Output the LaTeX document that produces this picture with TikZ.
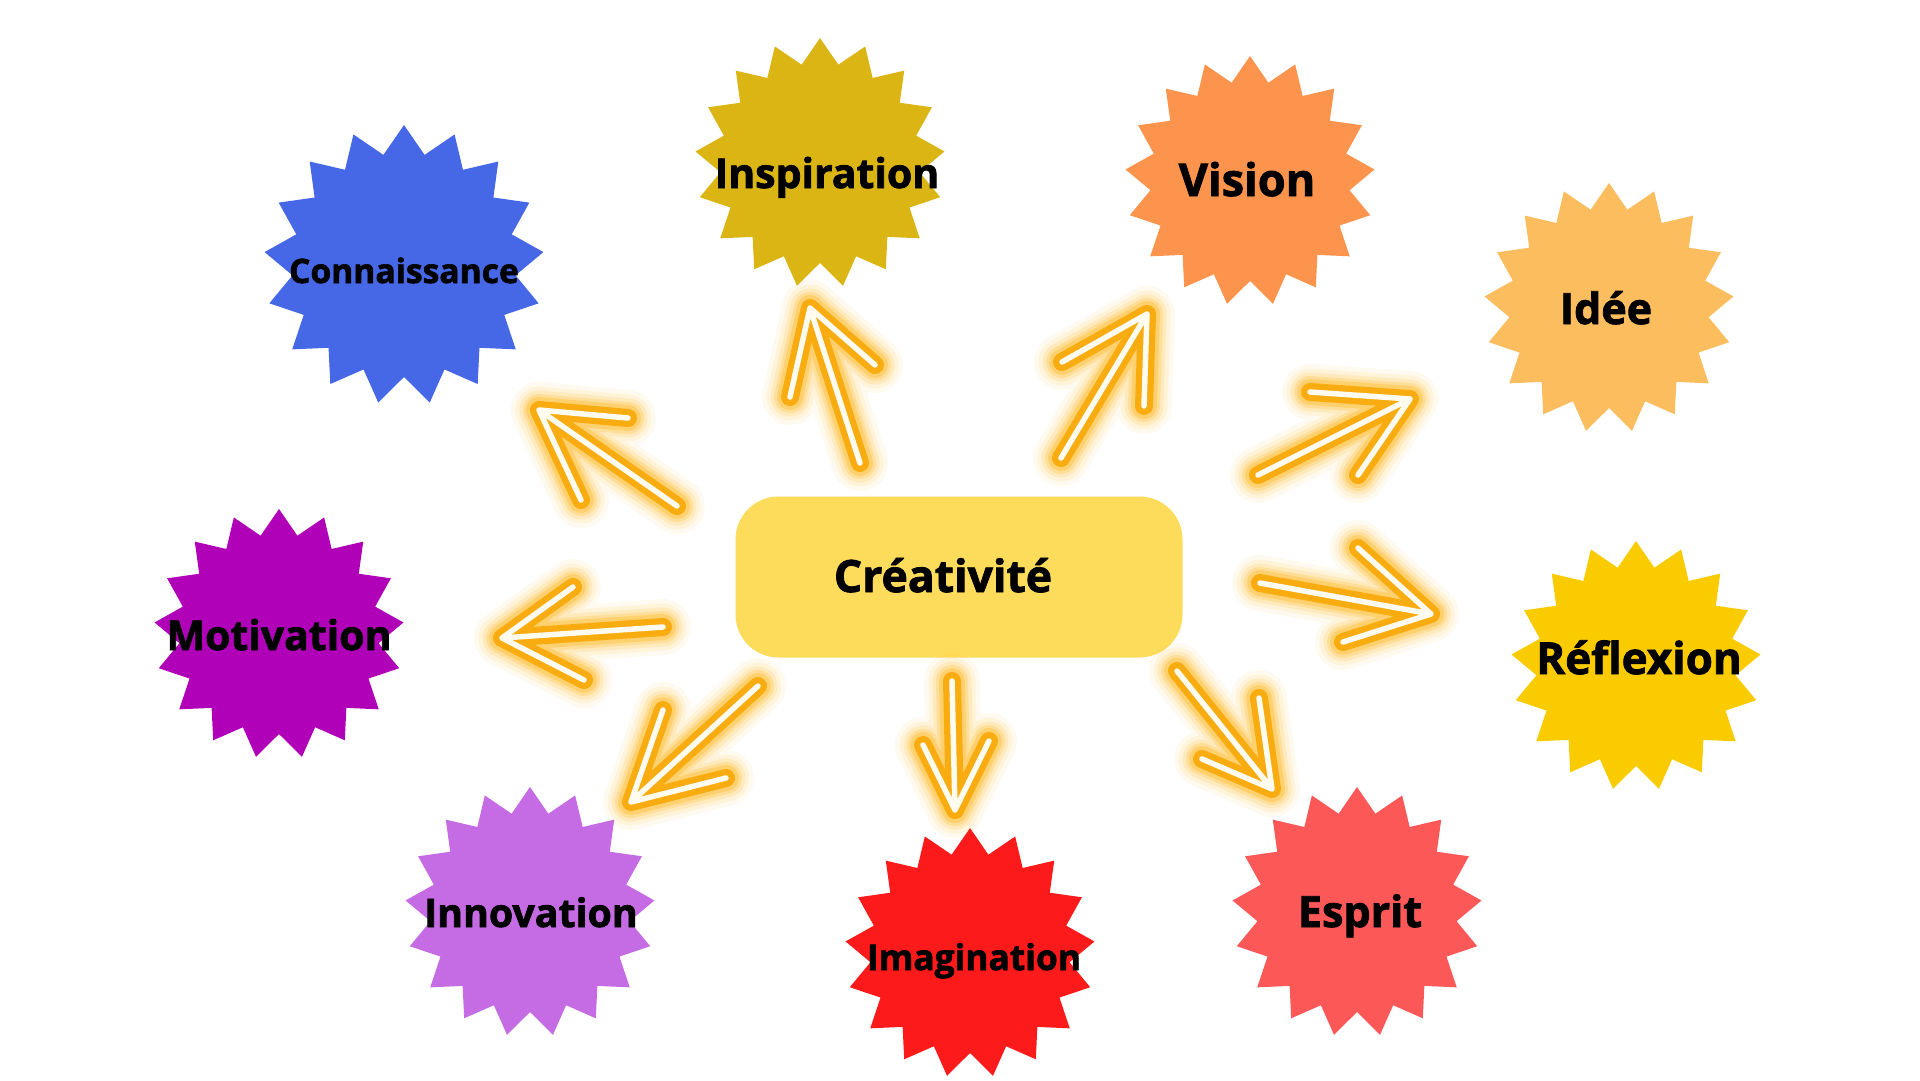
\documentclass[tikz,border=0pt]{standalone}
\usepackage{fontspec}
\setmainfont{Open Sans}[BoldFeatures={FakeBold=1.8}]
\usetikzlibrary{calc}
\definecolor{creaY}{HTML}{FDDC5C}
\definecolor{cBlue}{HTML}{4667E6}
\definecolor{cGold}{HTML}{DBB514}
\definecolor{cOrange}{HTML}{FD944D}
\definecolor{cPeach}{HTML}{FBBD5E}
\definecolor{cPurple}{HTML}{B000B8}
\definecolor{cYellow}{HTML}{FACC00}
\definecolor{cLilac}{HTML}{C56BE3}
\definecolor{cRed}{HTML}{FC1A1A}
\definecolor{cCoral}{HTML}{FD5858}
\definecolor{neon}{HTML}{F8AC10}
\definecolor{glowc}{HTML}{FFAE00}
\definecolor{core}{HTML}{FFFBEF}
\tikzset{
  lbl/.style={font=\bfseries\fontsize{#1bp}{#1bp}\selectfont, text=black, anchor=base, inner sep=0pt},
  neonline/.style={line cap=round, line join=round},
}
\newcommand\burst[3]{%
  \fill[#3] ($(#1)+(-90:#2)$) \foreach \k in {1,...,33}{ -- ($(#1)+({-90+\k*180/17}:{ifthenelse(mod(\k,2)==1,0.8*#2,#2)})$)} -- cycle;}
\newcommand\neonarrow[4]{%
  \foreach \w/\o in {56/0.06,47/0.09,39/0.13,32/0.19,26/0.28}{
    \draw[neonline, line width=\w bp, draw=glowc, opacity=\o] (#1) -- (#2) (#3) -- (#2) -- (#4);}
  \draw[neonline, line width=18bp, draw=neon] (#1) -- (#2) (#3) -- (#2) -- (#4);
  \draw[neonline, line width=5.5bp, draw=core] (#1) -- (#2) (#3) -- (#2) -- (#4);}
\begin{document}
\begin{tikzpicture}[x=1bp, y=-1bp]
\useasboundingbox (0,0) rectangle (1920,1080);
\fill[white] (0,0) rectangle (1920,1080);

% star centres
\coordinate (conn) at (404,265);
\coordinate (insp) at (820,163);
\coordinate (visi) at (1250,181);
\coordinate (idee) at (1609,308);
\coordinate (moti) at (279,634);
\coordinate (refl) at (1636,666);
\coordinate (inno) at (530,912);
\coordinate (imag) at (970,953);
\coordinate (espr) at (1357,912);

\burst{conn}{140}{cBlue}
\burst{insp}{125}{cGold}
\burst{visi}{125}{cOrange}
\burst{idee}{125}{cPeach}
\burst{moti}{125}{cPurple}
\burst{refl}{125}{cYellow}
\burst{inno}{125}{cLilac}
\burst{imag}{125}{cRed}
\burst{espr}{125}{cCoral}

\node[lbl=33.6] (connT) at (404,283) {Connaissance};
\node[lbl=41] (inspT) at (827,188) {Inspiration};
\node[lbl=45] (visiT) at (1247,196) {Vision};
\node[lbl=43] (ideeT) at (1606,324) {Idée};
\node[lbl=41] (motiT) at (279,650) {Motivation};
\node[lbl=44] (reflT) at (1639,674) {Réflexion};
\node[lbl=39.3] (innoT) at (531,927) {Innovation};
\node[lbl=35.3] (imagT) at (974,970) {Imagination};
\node[lbl=43] (esprT) at (1360,927) {Esprit};

% central box
\node[fill=creaY, rounded corners=43bp, minimum width=447bp, minimum height=161bp, inner sep=0pt] (crea) at (959,577) {};
\node[lbl=44.5] (creaT) at (943,592) {Créativité};

% arrow points
\coordinate (a1s) at (677,506); \coordinate (a1t) at (539,410); \coordinate (a1b) at (628,418); \coordinate (a1c) at (581,500);
\coordinate (a2s) at (860,463); \coordinate (a2t) at (810,308); \coordinate (a2b) at (790,397); \coordinate (a2c) at (875,365);
\coordinate (a3s) at (1061,458); \coordinate (a3t) at (1147,314); \coordinate (a3b) at (1062,362); \coordinate (a3c) at (1144,406);
\coordinate (a4s) at (1258,475); \coordinate (a4t) at (1410,399); \coordinate (a4b) at (1310,392); \coordinate (a4c) at (1358,475);
\coordinate (a5s) at (1260,583); \coordinate (a5t) at (1431,614); \coordinate (a5b) at (1358,548); \coordinate (a5c) at (1343,642);
\coordinate (a6s) at (1177,671); \coordinate (a6t) at (1272,789); \coordinate (a6b) at (1202,759); \coordinate (a6c) at (1259,698);
\coordinate (a7s) at (952,681); \coordinate (a7t) at (955,810); \coordinate (a7b) at (923,745); \coordinate (a7c) at (989,741);
\coordinate (a8s) at (758,686); \coordinate (a8t) at (631,802); \coordinate (a8b) at (663,710); \coordinate (a8c) at (726,778);
\coordinate (a9s) at (663,627); \coordinate (a9t) at (502,638); \coordinate (a9b) at (573,587); \coordinate (a9c) at (584,680);

\neonarrow{a1s}{a1t}{a1b}{a1c}
\neonarrow{a2s}{a2t}{a2b}{a2c}
\neonarrow{a3s}{a3t}{a3b}{a3c}
\neonarrow{a4s}{a4t}{a4b}{a4c}
\neonarrow{a5s}{a5t}{a5b}{a5c}
\neonarrow{a6s}{a6t}{a6b}{a6c}
\neonarrow{a7s}{a7t}{a7b}{a7c}
\neonarrow{a8s}{a8t}{a8b}{a8c}
\neonarrow{a9s}{a9t}{a9b}{a9c}
\end{tikzpicture}
\end{document}
